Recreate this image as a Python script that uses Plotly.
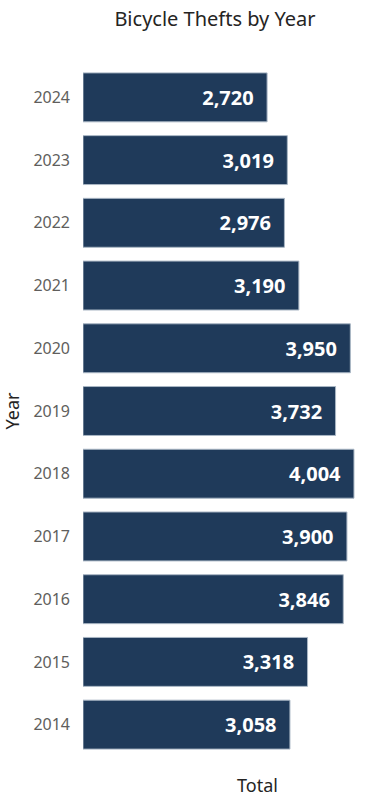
import plotly.graph_objects as go

years = ["2014", "2015", "2016", "2017", "2018", "2019", "2020", "2021", "2022", "2023", "2024"]
totals = [3058, 3318, 3846, 3900, 4004, 3732, 3950, 3190, 2976, 3019, 2720]

font_family = "Noto Sans, Open Sans, sans-serif"

fig = go.Figure(go.Bar(
    x=totals,
    y=years,
    orientation="h",
    marker=dict(color="#1f3a5a", line=dict(color="#a9b6c4", width=1)),
    text=[f"{v:,}\u00a0\u00a0" for v in totals],
    textposition="inside",
    insidetextanchor="end",
    textfont=dict(color="white", size=20, family=font_family, weight="bold"),
    hoverinfo="skip",
))

fig.update_layout(
    width=369, height=798,
    margin=dict(l=83, r=9, t=66, b=42),
    paper_bgcolor="white", plot_bgcolor="white",
    bargap=0.22,
    showlegend=False,
    title=dict(text="Bicycle Thefts by Year", x=215 / 369, xanchor="center", y=1 - 19 / 798, yanchor="middle",
               font=dict(size=20, color="#252423", family=font_family)),
    font=dict(family=font_family),
)
fig.update_xaxes(range=[0, 4093], showticklabels=False, showgrid=False, zeroline=False, showline=False,
                 automargin=False)
fig.update_yaxes(type="category", categoryorder="array", categoryarray=years,
                 showgrid=False, zeroline=False, showline=False, ticks="",
                 ticklabelstandoff=12, automargin=False,
                 tickfont=dict(size=16, color="#605e5c", family=font_family),
                 title=dict(text="Year", font=dict(size=18, color="#252423", family=font_family), standoff=16))
fig.add_annotation(text="Total", x=(257 - 83) / 277, y=-29 / 690, xref="paper", yref="paper",
                   xanchor="center", yanchor="middle", showarrow=False,
                   font=dict(size=18, color="#252423", family=font_family))

fig.write_html("out.html", config={"displayModeBar": False, "staticPlot": True},
               post_script="document.body.style.margin='0';document.body.style.overflow='hidden';")
